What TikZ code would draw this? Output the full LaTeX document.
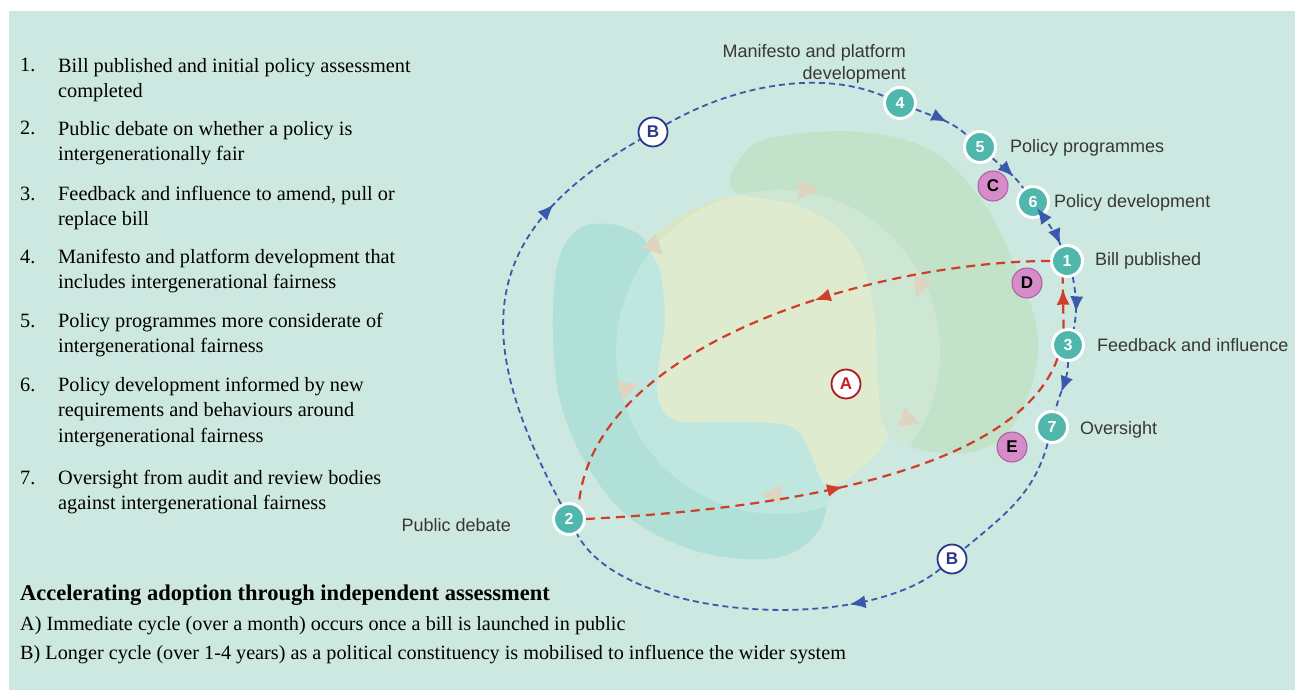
\documentclass[tikz,border=0pt]{standalone}
\usepackage{fontspec}
\setmainfont{Liberation Serif}
\newfontfamily\diagfont{Liberation Sans}
\usetikzlibrary{arrows.meta, decorations.markings}

\definecolor{bgmint}{RGB}{205,232,224}
\definecolor{stageteal}{RGB}{80,183,172}
\definecolor{loopblue}{RGB}{58,88,172}
\definecolor{loopred}{RGB}{208,62,42}
\definecolor{actorpink}{RGB}{214,140,200}
\definecolor{actoredge}{RGB}{170,95,155}
\definecolor{blobteal}{RGB}{176,224,215}
\definecolor{blobyellow}{RGB}{216,230,194}
\definecolor{blobgreen}{RGB}{194,226,202}
\definecolor{tipbeige}{RGB}{222,212,192}
\definecolor{labelgrey}{RGB}{55,55,55}
\definecolor{markred}{RGB}{200,30,40}
\definecolor{markblue}{RGB}{40,55,140}

\begin{document}
\begin{tikzpicture}[
		x=1pt, y=1pt,
		font=\diagfont,
		>=Latex,
		stage/.style={circle, fill=stageteal, draw=white, line width=3pt, minimum size=31pt, inner sep=0pt,
			text=white, font=\diagfont\bfseries\fontsize{16}{16}\selectfont},
		cyclemark/.style={circle, fill=white, line width=1.8pt, minimum size=29pt, inner sep=0pt,
			font=\diagfont\bfseries\fontsize{17}{17}\selectfont},
		actor/.style={circle, fill=actorpink, draw=actoredge, line width=1pt, minimum size=30pt, inner sep=0pt,
			text=black, font=\diagfont\bfseries\fontsize{17}{17}\selectfont},
		longloop/.style={draw=loopblue, line width=1.8pt, dash pattern=on 6pt off 4pt},
		shortloop/.style={draw=loopred, line width=2.2pt, dash pattern=on 9pt off 6pt},
		midarrow/.style={postaction={decorate, decoration={markings,
			mark=at position #1 with {\arrow{Latex[length=16pt, width=13pt]}}}}},
		backarrow/.style={postaction={decorate, decoration={markings,
			mark=at position #1 with {\arrow{Latex[reversed, length=16pt, width=13pt]}}}}},
		innerglow/.style={white, opacity=0.2},
		steplabel/.style={text=labelgrey, inner sep=0pt, font=\diagfont\fontsize{18}{22}\selectfont},
		keynum/.style={anchor=base west, inner sep=0pt, font=\rmfamily\fontsize{20.3}{25.5}\selectfont},
		keytext/.style={anchor=north west, align=left, inner sep=0pt, font=\rmfamily\fontsize{20.3}{25.5}\selectfont},
		keyline/.style={anchor=base west, inner sep=0pt, font=\rmfamily\fontsize{20.2}{20.2}\selectfont}
		]
		
		% --- 1. Background ---
		\useasboundingbox (0,0) rectangle (1295,-690);
		\fill[white] (0,0) rectangle (1295,-690);
		\fill[bgmint] (9,-11) rectangle (1295,-690);
		
		% --- 2. Blobs behind the cycles (each lightened inside the inner circle) ---
		\fill[blobteal, save path=\tealblob] plot[smooth cycle, tension=0.6] coordinates {
			(553,-330) (558,-262) (580,-228) (620,-226) (650,-248) (668,-310) (680,-380) (730,-415)
			(795,-425) (820,-455) (827,-500) (815,-535) (775,-558) (700,-552) (630,-518) (585,-462) (560,-400)};
		\begin{scope}
			\clip[use path=\tealblob];
			\fill[innerglow] (778,-352) circle (162);
		\end{scope}
		\fill[blobyellow, save path=\yellowblob] plot[smooth cycle, tension=0.6] coordinates {
			(650,-242) (690,-212) (735,-196) (800,-196) (850,-230) (872,-300) (885,-380) (890,-430)
			(862,-468) (826,-485) (810,-452) (790,-426) (730,-422) (675,-420) (657,-390) (665,-320) (660,-270)};
		\begin{scope}
			\clip[use path=\yellowblob];
			\fill[innerglow] (778,-352) circle (162);
		\end{scope}
		\fill[blobgreen, save path=\greenblob] plot[smooth cycle, tension=0.6] coordinates {
			(733,-190) (745,-152) (780,-136) (860,-132) (930,-150) (980,-198) (1015,-265) (1037,-330)
			(1032,-385) (1005,-435) (965,-453) (915,-448) (885,-428) (878,-380) (873,-300) (850,-240) (800,-206)};
		\begin{scope}
			\clip[use path=\greenblob];
			\fill[innerglow] (778,-352) circle (162);
		\end{scope}
		
		% faint arrow heads round the inner circle
		\fill[tipbeige, shift={(807,-190)}, rotate=0] (11,0) -- (-9,10) -- (-9,-10) -- cycle;
		\fill[tipbeige, shift={(920,-287)}, rotate=-110] (11,0) -- (-9,10) -- (-9,-10) -- cycle;
		\fill[tipbeige, shift={(910,-420)}, rotate=-20] (11,0) -- (-9,10) -- (-9,-10) -- cycle;
		\fill[tipbeige, shift={(772,-495)}, rotate=180] (11,0) -- (-9,10) -- (-9,-10) -- cycle;
		\fill[tipbeige, shift={(628,-388)}, rotate=20] (11,0) -- (-9,10) -- (-9,-10) -- cycle;
		\fill[tipbeige, shift={(655,-247)}, rotate=-45] (11,0) -- (-9,10) -- (-9,-10) -- cycle;
		
		% --- 3. Stages and markers ---
		\node[stage] (s4) at (900,-103) {4};
		\node[stage] (s5) at (980,-147) {5};
		\node[stage] (s6) at (1033,-202) {6};
		\node[stage] (s1) at (1067,-261) {1};
		\node[stage] (s3) at (1068,-345) {3};
		\node[stage] (s7) at (1052,-427) {7};
		\node[stage] (s2) at (569,-519) {2};
		
		\node[cyclemark, draw=markblue, text=markblue] (bTop) at (653,-132) {B};
		\node[cyclemark, draw=markblue, text=markblue] (bBot) at (952,-559) {B};
		\node[cyclemark, draw=markred!85!black, text=markred] (cA) at (846,-384) {A};
		
		\node[actor] (aC) at (993,-186) {C};
		\node[actor] (aD) at (1027,-283) {D};
		\node[actor] (aE) at (1012,-447) {E};
		
		% --- 4. Longer cycle (B) ---
		\draw[longloop, midarrow=0.75] (s2) to[out=118, in=210, looseness=1.3] (bTop);
		\draw[longloop] (bTop) to[out=30, in=157, looseness=0.85] (s4);
		\draw[longloop, midarrow=0.58] (s4) to[out=-22, in=138] (s5);
		\draw[longloop, midarrow=0.65] (s5) to[out=-42, in=125] (s6);
		\draw[longloop, backarrow=0.18, midarrow=0.98] (s6) to[out=-55, in=112] (s1);
		\draw[longloop, midarrow=0.68] (s1.-70) to[out=-80, in=80] (s3.70);
		\draw[longloop, midarrow=0.62] (s3) to[out=-90, in=78] (s7);
		\draw[longloop] (s7) to[out=-105, in=40] (bBot);
		\draw[longloop, midarrow=0.25] (bBot) to[out=-140, in=-62, looseness=0.7] (s2);
		
		% --- 5. Immediate cycle (A) ---
		\draw[shortloop, midarrow=0.42] (s1.west) to[out=180, in=85, looseness=0.8] (s2.55);
		\draw[shortloop, midarrow=0.5] (s2.east) to[out=3, in=-110, looseness=0.7] (s3.232);
		\draw[shortloop, midarrow=0.78] (s3.105) -- (s1.-105);
		
		% --- 6. Stage labels ---
		\node[steplabel, anchor=east, align=right] (l4) at (906,-64) {Manifesto and platform\\development};
		\node[steplabel, anchor=west] (l5) at (1010,-148) {Policy programmes};
		\node[steplabel, anchor=west] (l6) at (1054,-203) {Policy development};
		\node[steplabel, anchor=west] (l1) at (1095,-261) {Bill published};
		\node[steplabel, anchor=west] (l3) at (1097,-345) {Feedback\ and\ influence};
		\node[steplabel, anchor=west] (l7) at (1080,-430) {Oversight};
		\node[steplabel, anchor=east] (l2) at (511,-525) {Public debate};
		
		% --- 7. Key ---
		\node[keynum] at (20,-72) {1.};
		\node[keytext] at (58,-58) {Bill published and initial policy assessment\\completed};
		\node[keynum] at (20,-135) {2.};
		\node[keytext] at (58,-121) {Public debate on whether a policy is\\intergenerationally fair};
		\node[keynum] at (20,-200) {3.};
		\node[keytext] at (58,-186) {Feedback and influence to amend, pull or\\replace bill};
		\node[keynum] at (20,-263) {4.};
		\node[keytext] at (58,-249) {Manifesto and platform development that\\includes intergenerational fairness};
		\node[keynum] at (20,-327) {5.};
		\node[keytext] at (58,-313) {Policy programmes more considerate of\\intergenerational fairness};
		\node[keynum] at (20,-391) {6.};
		\node[keytext] at (58,-377) {Policy development informed by new\\requirements and behaviours around\\intergenerational fairness};
		\node[keynum] at (20,-484) {7.};
		\node[keytext] at (58,-470) {Oversight from audit and review bodies\\against intergenerational fairness};
		
		\node[keyline, font=\rmfamily\bfseries\fontsize{22.5}{22.5}\selectfont] at (20,-600) {Accelerating adoption through independent assessment};
		\node[keyline] at (20,-630) {A) Immediate cycle (over a month) occurs once a bill is launched in public};
		\node[keyline] at (20,-659) {B) Longer cycle (over 1-4 years) as a political constituency is mobilised to influence the wider system};
		
	\end{tikzpicture}
\end{document}
